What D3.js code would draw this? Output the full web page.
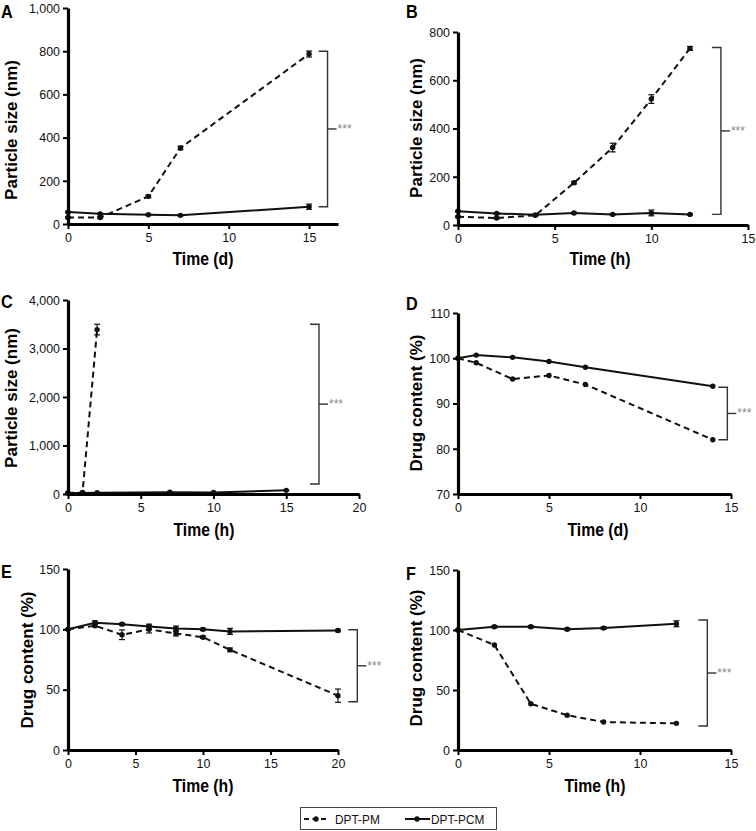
<!DOCTYPE html>
<html><head><meta charset="utf-8">
<script src="https://cdn.jsdelivr.net/npm/d3@7"></script>
<style>body{margin:0;background:#fff} svg{display:block;font-family:"Liberation Sans",Arial,sans-serif}</style>
</head><body><svg id="c" width="756" height="831"></svg>
<script>
// ---------- DATA ----------
const seriesNames = ["DPT-PM", "DPT-PCM"];

// Panel A: particle size (nm) vs time (d)
const aTime = [0, 2, 5, 7, 15];
const aPM = [30, 30, 128, 352, 787];
const aPMErr = [4, 4, 6, 8, 14];
const aPCM = [55, 47, 43, 40, 80];
const aPCMErr = [3, 3, 3, 3, 12];
const aYTicks = [0, 200, 400, 600, 800, 1000];
const aXTicks = [0, 5, 10, 15];
const aBracket = [800, 80];

// Panel B: particle size (nm) vs time (h)
const bTime = [0, 2, 4, 6, 8, 10, 12];
const bPM = [34, 29, 40, 175, 321, 522, 732];
const bPMErr = [3, 3, 3, 5, 18, 18, 8];
const bPCM = [57, 48, 42, 50, 44, 50, 44];
const bPCMErr = [3, 3, 3, 3, 3, 12, 3];
const bYTicks = [0, 200, 400, 600, 800];
const bXTicks = [0, 5, 10, 15];
const bBracket = [736, 44];

// Panel C: particle size (nm) vs time (h)
const cTimePM = [0, 1, 2];
const cPM = [20, 30, 3390];
const cPMErr = [2, 5, 110];
const cTimePCM = [0, 1, 2, 7, 10, 15];
const cPCM = [20, 22, 25, 35, 30, 75];
const cPCMErr = [2, 2, 2, 3, 3, 5];
const cYTicks = [0, 1000, 2000, 3000, 4000];
const cXTicks = [0, 5, 10, 15, 20];
const cBracket = [3500, 206];

// Panel D: drug content (%) vs time (d)
const dTime = [0, 1, 3, 5, 7, 14];
const dPM = [100, 99, 95.4, 96.2, 94.2, 82];
const dPCM = [100, 100.7, 100.2, 99.3, 98, 93.8];
const dYTicks = [70, 80, 90, 100, 110];
const dXTicks = [0, 5, 10, 15];
const dBracket = [93.6, 82];

// Panel E: drug content (%) vs time (h)
const eTime = [0, 2, 4, 6, 8, 10, 12, 20];
const ePM = [100, 103, 95.5, 100, 96.5, 93.5, 83, 45];
const ePMErr = [0.5, 1, 4, 3, 2, 1, 1.5, 5.5];
const ePCM = [100, 105.5, 104.3, 102.3, 100.7, 100, 98.3, 99];
const ePCMErr = [0.5, 1.5, 1, 2, 2, 1, 2.5, 1];
const eYTicks = [0, 50, 100, 150];
const eXTicks = [0, 5, 10, 15, 20];
const eBracket = [99.6, 40];

// Panel F: drug content (%) vs time (h)
const fTime = [0, 2, 4, 6, 8, 12];
const fPM = [100, 87.5, 38.5, 29, 23.3, 22.2];
const fPCM = [100, 102.7, 102.7, 100.6, 101.6, 105.2];
const fPCMErr = [0.5, 1, 1, 1, 1, 2.5];
const fYTicks = [0, 50, 100, 150];
const fXTicks = [0, 5, 10, 15];
const fBracket = [108.3, 20];

const sigLabel = "***";

// ---------- DRAWING ----------
const svg = d3.select("#c");
const fmt = d3.format(",");

function zip(xs, ys, es) { return xs.map((t, i) => ({ x: t, y: ys[i], e: es ? es[i] : 0 })); }

// horizontally compress text (reference figure is slightly narrowed)
function squish(sel, f) {
  sel.each(function () {
    const L = this.getComputedTextLength();
    d3.select(this).attr("textLength", L * f).attr("lengthAdjust", "spacingAndGlyphs");
  });
}

function panel(cfg) {
  const x = d3.scaleLinear().domain(cfg.xDomain).range([cfg.left, cfg.right]);
  const y = d3.scaleLinear().domain(cfg.yDomain).range([cfg.bottom, cfg.top]);
  const g = svg.append("g");

  // series
  cfg.series.forEach(s => {
    const line = d3.line().x(d => x(d.x)).y(d => y(d.y));
    g.append("path").datum(s.data).attr("d", line)
      .attr("fill", "none").attr("stroke", "#111").attr("stroke-width", 2)
      .attr("stroke-dasharray", s.dashed ? "6,4" : null);
    const eb = g.append("g").selectAll("g").data(s.data.filter(d => d.e > 0)).join("g");
    eb.append("line").attr("x1", d => x(d.x)).attr("x2", d => x(d.x))
      .attr("y1", d => y(d.y - d.e)).attr("y2", d => y(d.y + d.e)).attr("stroke", "#111").attr("stroke-width", 1.2);
    ["-", "+"].forEach(sign => {
      eb.append("line").attr("x1", d => x(d.x) - 3).attr("x2", d => x(d.x) + 3)
        .attr("y1", d => y(sign === "-" ? d.y - d.e : d.y + d.e))
        .attr("y2", d => y(sign === "-" ? d.y - d.e : d.y + d.e))
        .attr("stroke", "#111").attr("stroke-width", 1.2);
    });
    g.append("g").selectAll("circle").data(s.data).join("circle")
      .attr("cx", d => x(d.x)).attr("cy", d => y(d.y)).attr("r", 2.7).attr("fill", "#111");
  });

  // axes
  const ya = g.append("g").attr("transform", `translate(${cfg.left},0)`)
    .call(d3.axisLeft(y).tickValues(cfg.yTicks).tickFormat(fmt).tickSize(5).tickSizeOuter(0).tickPadding(3));
  const xa = g.append("g").attr("transform", `translate(0,${cfg.bottom})`)
    .call(d3.axisBottom(x).tickValues(cfg.xTicks).tickFormat(fmt).tickSize(5).tickSizeOuter(0).tickPadding(3));
  [ya, xa].forEach(a => {
    a.select(".domain").attr("stroke", "#000").attr("stroke-width", 3.2);
    a.selectAll(".tick line").attr("stroke", "#000").attr("stroke-width", 2);
    a.selectAll(".tick text").attr("font-size", "13.5px").attr("fill", "#111")
      .attr("font-family", '"Liberation Sans",Arial,sans-serif');
    squish(a.selectAll(".tick text"), 0.92);
  });

  // bracket
  const bx = x(cfg.bracketX);
  const by1 = y(cfg.bracket[0]), by2 = y(cfg.bracket[1]);
  const bm = (by1 + by2) / 2;
  const bg = g.append("g").attr("stroke", "#333").attr("stroke-width", 1.4).attr("fill", "none");
  bg.append("path").attr("d", `M${bx - 9},${by1}H${bx}V${by2}H${bx - 9}`);
  bg.append("line").attr("x1", bx).attr("x2", bx + 9).attr("y1", bm).attr("y2", bm);
  g.append("text").attr("x", bx + 10).attr("y", bm + 4).attr("font-size", "12px").attr("fill", "#888")
    .text(sigLabel);

  // labels
  const lt = g.append("text").attr("x", cfg.letter[0]).attr("y", cfg.letter[1]).attr("font-size", "18px")
    .attr("font-weight", "bold").text(cfg.letterText);
  squish(lt, 0.9);
  g.append("text").attr("transform", `translate(${cfg.yLab[0]},${cfg.yLab[1]}) rotate(-90)`)
    .attr("text-anchor", "middle").attr("dominant-baseline", "central")
    .attr("font-size", "17px").attr("font-weight", "bold").text(cfg.yTitle);
  const xt = g.append("text").attr("x", cfg.xLab[0]).attr("y", cfg.xLab[1])
    .attr("text-anchor", "middle").attr("dominant-baseline", "central")
    .attr("font-size", "17.5px").attr("font-weight", "bold").text(cfg.xTitle);
  squish(xt, 0.9);
}

panel({
  letterText: "A", letter: [1, 18], yTitle: "Particle size (nm)", xTitle: "Time (d)",
  yLab: [11, 130], xLab: [203, 259],
  left: 68, right: 338, top: 8, bottom: 224, xDomain: [0, 16.8], yDomain: [0, 1000],
  xTicks: aXTicks, yTicks: aYTicks, bracket: aBracket, bracketX: 16.15,
  series: [{ dashed: true, data: zip(aTime, aPM, aPMErr) }, { dashed: false, data: zip(aTime, aPCM, aPCMErr) }]
});
panel({
  letterText: "B", letter: [406, 18], yTitle: "Particle size (nm)", xTitle: "Time (h)",
  yLab: [416, 128], xLab: [600, 259],
  left: 458, right: 748, top: 32, bottom: 225, xDomain: [0, 15], yDomain: [0, 800],
  xTicks: bXTicks, yTicks: bYTicks, bracket: bBracket, bracketX: 13.6,
  series: [{ dashed: true, data: zip(bTime, bPM, bPMErr) }, { dashed: false, data: zip(bTime, bPCM, bPCMErr) }]
});
panel({
  letterText: "C", letter: [1, 308], yTitle: "Particle size (nm)", xTitle: "Time (h)",
  yLab: [11, 398], xLab: [204, 530],
  left: 68, right: 359, top: 300, bottom: 494, xDomain: [0, 20], yDomain: [0, 4000],
  xTicks: cXTicks, yTicks: cYTicks, bracket: cBracket, bracketX: 17.25,
  series: [{ dashed: true, data: zip(cTimePM, cPM, cPMErr) }, { dashed: false, data: zip(cTimePCM, cPCM, cPCMErr) }]
});
panel({
  letterText: "D", letter: [406, 310], yTitle: "Drug content (%)", xTitle: "Time (d)",
  yLab: [416, 403], xLab: [598, 530],
  left: 458, right: 731, top: 313, bottom: 494, xDomain: [0, 15], yDomain: [70, 110],
  xTicks: dXTicks, yTicks: dYTicks, bracket: dBracket, bracketX: 14.8,
  series: [{ dashed: true, data: zip(dTime, dPM) }, { dashed: false, data: zip(dTime, dPCM) }]
});
panel({
  letterText: "E", letter: [1, 578], yTitle: "Drug content (%)", xTitle: "Time (h)",
  yLab: [27, 660], xLab: [203, 786],
  left: 68, right: 338, top: 569, bottom: 750, xDomain: [0, 20], yDomain: [0, 150],
  xTicks: eXTicks, yTicks: eYTicks, bracket: eBracket, bracketX: 21.43,
  series: [{ dashed: true, data: zip(eTime, ePM, ePMErr) }, { dashed: false, data: zip(eTime, ePCM, ePCMErr) }]
});
panel({
  letterText: "F", letter: [406, 580], yTitle: "Drug content (%)", xTitle: "Time (h)",
  yLab: [416, 658], xLab: [595, 786],
  left: 458, right: 731, top: 570, bottom: 750, xDomain: [0, 15], yDomain: [0, 150],
  xTicks: fXTicks, yTicks: fYTicks, bracket: fBracket, bracketX: 13.7,
  series: [{ dashed: true, data: zip(fTime, fPM) }, { dashed: false, data: zip(fTime, fPCM, fPCMErr) }]
});

// legend
const lg = svg.append("g");
lg.append("rect").attr("x", 300.5).attr("y", 807.5).attr("width", 196).attr("height", 22)
  .attr("fill", "#fff").attr("stroke", "#444").attr("stroke-width", 1);
const legendItems = [{ name: seriesNames[0], x: 304, dashed: true }, { name: seriesNames[1], x: 405, dashed: false }];
legendItems.forEach(it => {
  lg.append("line").attr("x1", it.x).attr("x2", it.x + 25).attr("y1", 819).attr("y2", 819)
    .attr("stroke", "#111").attr("stroke-width", 2).attr("stroke-dasharray", it.dashed ? "5,3.5" : null);
  lg.append("circle").attr("cx", it.x + 12).attr("cy", 819).attr("r", 2.7).attr("fill", "#111");
  const t = lg.append("text").attr("x", it.x + (it.dashed ? 31 : 26)).attr("y", 819).attr("dominant-baseline", "central")
    .attr("font-size", "13.5px").attr("fill", "#111").text(it.name);
  squish(t, 0.88);
});
</script></body></html>
